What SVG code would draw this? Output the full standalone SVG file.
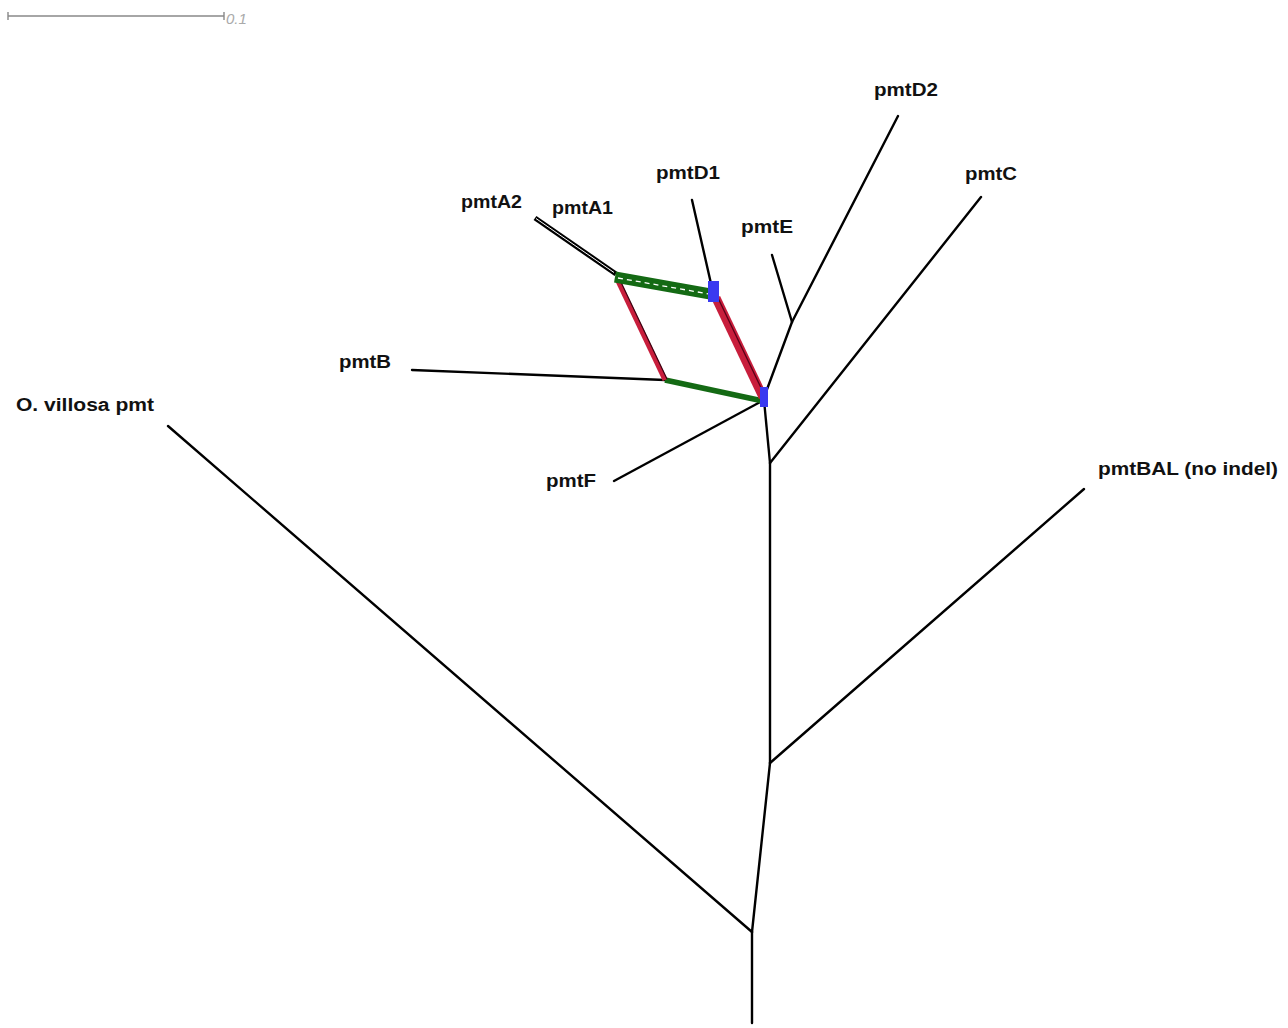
<svg xmlns="http://www.w3.org/2000/svg" width="1288" height="1028" viewBox="0 0 1288 1028">
<style>
.br{stroke:#000;stroke-width:2.4;fill:none;stroke-linecap:round}
.lab{font-family:"Liberation Sans",Arial,sans-serif;font-weight:bold;font-size:18px;fill:#111}
.green{stroke:#146a14;fill:none}
.red{stroke:#c81e3c;fill:none}
.blue{fill:#3a3af0}
</style>
<rect width="1288" height="1028" fill="#fff"/>
<g id="scale">
<line x1="8" y1="16" x2="224" y2="16" stroke="#888" stroke-width="1.4"/>
<line x1="8" y1="12" x2="8" y2="20" stroke="#888" stroke-width="1.4"/>
<line x1="224" y1="12" x2="224" y2="20" stroke="#888" stroke-width="1.4"/>
<text x="226" y="24" font-family="'Liberation Sans',Arial,sans-serif" font-style="italic" font-size="15" fill="#aaa">0.1</text>
</g>
<g id="connectors">
<line class="br" x1="752" y1="1023" x2="752" y2="932"/>
<line class="br" x1="752" y1="932" x2="168" y2="426"/>
<line class="br" x1="752" y1="932" x2="770" y2="763"/>
<line class="br" x1="770" y1="763" x2="1084" y2="489"/>
<line class="br" x1="770" y1="763" x2="770" y2="463"/>
<line class="br" x1="770" y1="463" x2="981" y2="197"/>
<line class="br" x1="770" y1="463" x2="764" y2="400"/>
<line class="br" x1="764" y1="400" x2="614" y2="481"/>
<line class="br" x1="766" y1="392" x2="792" y2="322"/>
<line class="br" x1="792" y1="322" x2="898" y2="116"/>
<line class="br" x1="792" y1="322" x2="772" y2="255"/>
<line class="br" x1="712" y1="288" x2="692" y2="200"/>
<line class="br" x1="665" y1="380" x2="412" y2="370"/>
<line stroke="#000" stroke-width="5" x1="535" y1="218" x2="616" y2="274"/>
<line stroke="#fff" stroke-width="1" x1="536" y1="218.5" x2="614" y2="272.5"/>
<line class="green" stroke-width="5.5" x1="665" y1="380" x2="763" y2="401"/>
<line class="red" stroke-width="5" x1="617" y1="279" x2="665" y2="380"/>
<line stroke="#3a0010" stroke-width="1.2" x1="619" y1="278" x2="667" y2="379"/>
<line class="red" stroke-width="9" x1="716" y1="298" x2="763" y2="397"/>
<line stroke="#5a0018" stroke-width="1.3" x1="718" y1="298" x2="765" y2="396"/>
<line class="green" stroke-width="11" x1="615" y1="277" x2="716" y2="295"/>
<line stroke="#fff" stroke-width="1.3" stroke-dasharray="5 4" x1="618" y1="278" x2="712" y2="294.5"/>
<rect class="blue" x="708" y="281" width="11" height="21"/>
<rect class="blue" x="760" y="387" width="8" height="20"/>
</g>
<g id="pmtD2"><text class="lab" x="874" y="96" textLength="64" lengthAdjust="spacingAndGlyphs">pmtD2</text></g>
<g id="pmtC"><text class="lab" x="965" y="180" textLength="52" lengthAdjust="spacingAndGlyphs">pmtC</text></g>
<g id="pmtD1"><text class="lab" x="656" y="179" textLength="64" lengthAdjust="spacingAndGlyphs">pmtD1</text></g>
<g id="pmtA2"><text class="lab" x="461" y="208" textLength="61" lengthAdjust="spacingAndGlyphs">pmtA2</text></g>
<g id="pmtA1"><text class="lab" x="552" y="214" textLength="61" lengthAdjust="spacingAndGlyphs">pmtA1</text></g>
<g id="pmtE"><text class="lab" x="741" y="233" textLength="52" lengthAdjust="spacingAndGlyphs">pmtE</text></g>
<g id="pmtB"><text class="lab" x="339" y="368" textLength="52" lengthAdjust="spacingAndGlyphs">pmtB</text></g>
<g id="ovillosa"><text class="lab" x="16" y="411" textLength="138" lengthAdjust="spacingAndGlyphs">O. villosa pmt</text></g>
<g id="pmtF"><text class="lab" x="546" y="487" textLength="50" lengthAdjust="spacingAndGlyphs">pmtF</text></g>
<g id="pmtBAL"><text class="lab" x="1098" y="475" textLength="180" lengthAdjust="spacingAndGlyphs">pmtBAL (no indel)</text></g>
</svg>
